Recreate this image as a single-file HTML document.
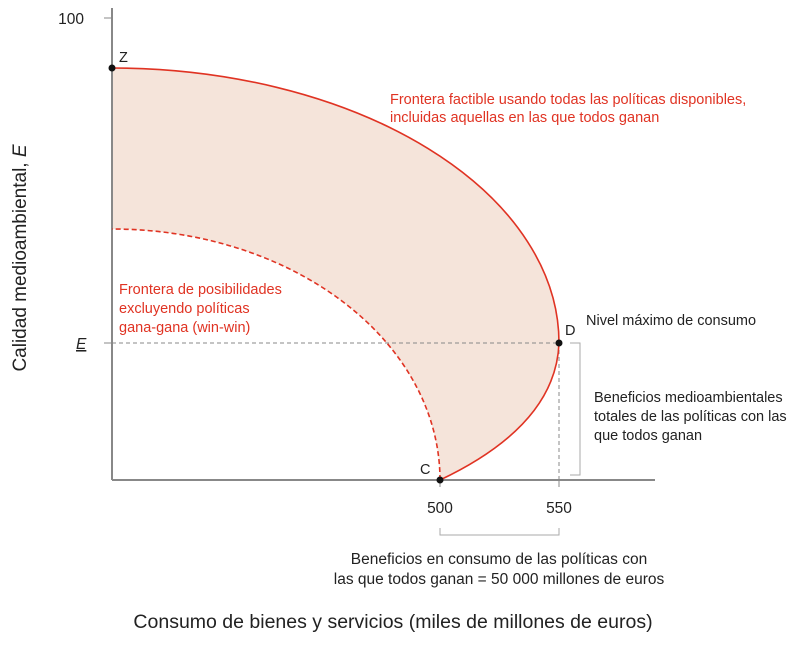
<!DOCTYPE html>
<html><head><meta charset="utf-8"><style>
body{margin:0;background:#fff;}
svg{display:block;font-family:"Liberation Sans",sans-serif;}
</style></head><body>
<svg width="810" height="646" viewBox="0 0 810 646">
<path d="M112,68 A447,275 0 0 1 559,343 Q556,425 440,480 A328,251 0 0 0 112,229 Z" fill="#f5e4da"/>
<line x1="112" y1="343" x2="559" y2="343" stroke="#888" stroke-dasharray="4,3"/>
<line x1="559" y1="343" x2="559" y2="480" stroke="#888" stroke-dasharray="4,3"/>
<line x1="112" y1="8" x2="112" y2="480" stroke="#888" stroke-width="2"/>
<line x1="112" y1="480" x2="655" y2="480" stroke="#888" stroke-width="2"/>
<line x1="104" y1="18" x2="112" y2="18" stroke="#888"/>
<line x1="104" y1="343" x2="112" y2="343" stroke="#888"/>
<line x1="440" y1="480" x2="440" y2="487" stroke="#888"/>
<line x1="559" y1="480" x2="559" y2="487" stroke="#888"/>
<path d="M112,68 A447,275 0 0 1 559,343 Q556,425 440,480" fill="none" stroke="#e03323" stroke-width="1.6"/>
<path d="M440,480 A328,251 0 0 0 112,229" fill="none" stroke="#e03323" stroke-width="1.6" stroke-dasharray="5,3"/>
<circle cx="112" cy="68" r="3.5" fill="#111"/>
<circle cx="559" cy="343" r="3.5" fill="#111"/>
<circle cx="440" cy="480" r="3.5" fill="#111"/>
<path d="M570,343 H580 V475 H570" fill="none" stroke="#aaa"/>
<path d="M440,528 V535 H559 V528" fill="none" stroke="#aaa"/>
<g font-size="15.5" fill="#222">
<text x="84" y="24" text-anchor="end">100</text>
<text x="119" y="62" font-size="14.5">Z</text>
<text x="565" y="335" font-size="14.5">D</text>
<text x="420" y="474" font-size="14.5">C</text>
<text x="440" y="513" text-anchor="middle">500</text>
<text x="559" y="513" text-anchor="middle">550</text>
<text x="76" y="349" font-style="italic" text-decoration="underline">E</text>
</g>
<g font-size="14.5" fill="#222">
<text x="586" y="325">Nivel máximo de consumo</text>
<text x="594" y="402">Beneficios medioambientales</text>
<text x="594" y="421">totales de las políticas con las</text>
<text x="594" y="440">que todos ganan</text>
<text x="499" y="564" text-anchor="middle" font-size="15.5">Beneficios en consumo de las políticas con</text>
<text x="499" y="584" text-anchor="middle" font-size="15.5">las que todos ganan = 50 000 millones de euros</text>
</g>
<g font-size="14.5" fill="#e03323">
<text x="390" y="104">Frontera factible usando todas las políticas disponibles,</text>
<text x="390" y="122">incluidas aquellas en las que todos ganan</text>
<text x="119" y="294">Frontera de posibilidades</text>
<text x="119" y="313">excluyendo políticas</text>
<text x="119" y="332">gana-gana (win-win)</text>
</g>
<text x="393" y="628" text-anchor="middle" font-size="19.5" fill="#222">Consumo de bienes y servicios (miles de millones de euros)</text>
<text transform="translate(26,258) rotate(-90)" text-anchor="middle" font-size="19" fill="#222">Calidad medioambiental, <tspan font-style="italic">E</tspan></text>
</svg>
</body></html>
